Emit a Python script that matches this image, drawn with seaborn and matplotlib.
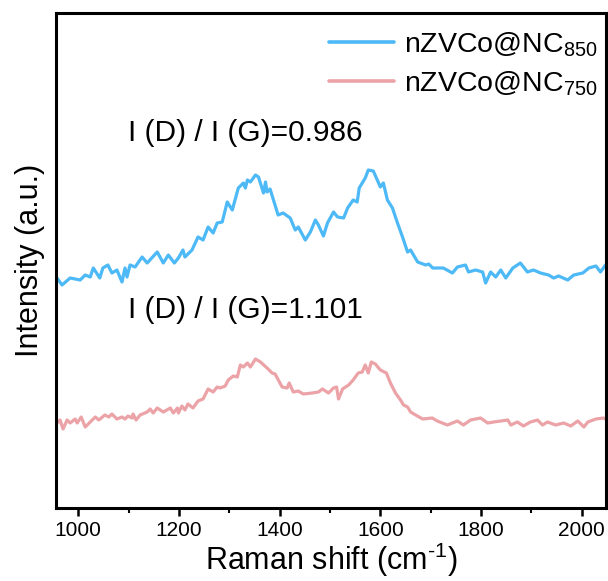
import numpy as np
import pandas as pd
import matplotlib
matplotlib.use("Agg")
import matplotlib.pyplot as plt
from matplotlib.ticker import MultipleLocator
import seaborn as sns

# ---- data ----
shift_850 = [958, 968, 984, 1004, 1014, 1024, 1030, 1043, 1049, 1059, 1067, 1077, 1087, 1093, 1097, 1103,
             1113, 1127, 1137, 1157, 1169, 1179, 1191, 1199, 1208, 1212, 1226, 1238, 1248, 1258, 1268, 1276,
             1286, 1296, 1306, 1318, 1328, 1332, 1336, 1342, 1352, 1358, 1368, 1372, 1375, 1381, 1397, 1407,
             1421, 1431, 1437, 1451, 1461, 1471, 1477, 1487, 1495, 1507, 1515, 1527, 1535, 1546, 1554, 1558,
             1570, 1576, 1586, 1600, 1606, 1614, 1624, 1634, 1644, 1654, 1660, 1674, 1690, 1696, 1704, 1725,
             1743, 1753, 1769, 1775, 1789, 1803, 1809, 1819, 1829, 1839, 1849, 1863, 1878, 1892, 1904, 1918,
             1934, 1944, 1954, 1972, 1984, 2002, 2014, 2028, 2037, 2047]
int_850 = [230, 223, 230, 228, 233, 231, 240, 230, 240, 243, 235, 238, 226, 240, 231, 243,
           241, 251, 245, 256, 245, 253, 245, 250, 258, 251, 258, 271, 268, 281, 275, 285,
           286, 306, 298, 320, 325, 320, 328, 326, 333, 331, 315, 326, 316, 319, 293, 295,
           290, 278, 281, 268, 276, 288, 283, 272, 285, 296, 291, 290, 300, 308, 306, 320,
           330, 338, 337, 321, 325, 308, 300, 285, 271, 256, 258, 246, 243, 244, 240, 240,
           235, 241, 243, 236, 238, 236, 225, 236, 231, 238, 230, 240, 245, 236, 238, 235,
           233, 230, 232, 228, 233, 235, 240, 242, 236, 243]

shift_750 = [958, 964, 970, 978, 984, 994, 998, 1006, 1014, 1024, 1034, 1041, 1053, 1061, 1067, 1077,
             1087, 1093, 1099, 1107, 1109, 1115, 1123, 1137, 1143, 1149, 1157, 1169, 1183, 1189, 1197, 1199,
             1206, 1212, 1218, 1228, 1238, 1248, 1258, 1268, 1276, 1282, 1292, 1298, 1308, 1316, 1322, 1328,
             1336, 1342, 1352, 1362, 1375, 1385, 1391, 1405, 1415, 1419, 1427, 1437, 1447, 1465, 1477, 1485,
             1497, 1507, 1513, 1517, 1525, 1537, 1546, 1556, 1564, 1570, 1576, 1582, 1590, 1600, 1612, 1620,
             1630, 1640, 1646, 1654, 1660, 1670, 1684, 1703, 1713, 1733, 1753, 1765, 1779, 1799, 1813, 1825,
             1839, 1853, 1859, 1872, 1884, 1898, 1912, 1922, 1932, 1948, 1964, 1978, 1992, 2004, 2012, 2028,
             2043, 2051]
int_750 = [85, 88, 79, 88, 85, 89, 85, 91, 81, 86, 91, 88, 93, 91, 94, 89,
           91, 89, 92, 90, 94, 88, 93, 96, 99, 95, 100, 96, 100, 95, 100, 95,
           102, 98, 104, 100, 107, 109, 119, 116, 121, 120, 122, 128, 132, 131, 143, 141,
           145, 141, 149, 146, 140, 135, 134, 121, 120, 125, 116, 117, 114, 115, 116, 119,
           115, 120, 121, 109, 119, 123, 128, 135, 136, 143, 135, 146, 144, 138, 135, 125,
           115, 108, 103, 101, 96, 93, 89, 90, 87, 83, 87, 83, 88, 90, 85, 86,
           87, 88, 83, 86, 82, 86, 88, 83, 86, 83, 85, 82, 87, 81, 86, 89,
           90, 88]

series_labels = [r"nZVCo@NC$_{850}$", r"nZVCo@NC$_{750}$"]
ratio_labels = ["I (D) / I (G)=0.986", "I (D) / I (G)=1.101"]
x_ticks = [1000, 1200, 1400, 1600, 1800, 2000]

df = pd.concat([
    pd.DataFrame({"shift": shift_850, "intensity": int_850, "sample": series_labels[0]}),
    pd.DataFrame({"shift": shift_750, "intensity": int_750, "sample": series_labels[1]}),
], ignore_index=True)

sns.set_style("ticks")
plt.rcParams["font.family"] = ["Liberation Sans", "DejaVu Sans"]
plt.rcParams["mathtext.fontset"] = "custom"
plt.rcParams["mathtext.rm"] = "Liberation Sans"
plt.rcParams["mathtext.default"] = "regular"
plt.rcParams["text.color"] = "black"
plt.rcParams["axes.labelcolor"] = "black"
plt.rcParams["xtick.color"] = "black"
plt.rcParams["ytick.color"] = "black"
plt.rcParams["xtick.bottom"] = True

fig = plt.figure(figsize=(6.08, 5.81), dpi=100)
ax = fig.add_axes([56 / 608, 73 / 581, 550 / 608, 495 / 581])

sns.lineplot(data=df, x="shift", y="intensity", hue="sample", hue_order=series_labels,
             palette=["#4DB9F6", "#EBA3A7"], estimator=None, sort=False,
             linewidth=2.3, ax=ax)

ax.set_xlim(956, 2048)
ax.set_ylim(0, 495)
ax.set_xticks(x_ticks)
ax.xaxis.set_minor_locator(MultipleLocator(100))
ax.set_yticks([])
ax.tick_params(axis="x", which="major", direction="out", length=6, width=1.8,
               labelsize=15, pad=3, color="black", labelcolor="black", bottom=True)
ax.tick_params(axis="x", which="minor", direction="out", length=3.5, width=1.5,
               color="black", bottom=True)
for sp in ax.spines.values():
    sp.set_visible(True)
    sp.set_linewidth(2.2)
    sp.set_color("black")

ax.set_xlabel(r"Raman shift (cm$^{\text{-1}}$)", fontsize=22, labelpad=1, color="black")
ax.set_ylabel("Intensity (a.u.)", fontsize=22, labelpad=8, color="black")

ax.text(1098, 375, ratio_labels[0], fontsize=21.5, va="center", ha="left", color="black")
ax.text(1098, 198, ratio_labels[1], fontsize=21.5, va="center", ha="left", color="black")

leg = ax.legend(loc="upper right", frameon=False, fontsize=20.5, handlelength=2.3,
                handletextpad=0.35, labelspacing=0.38, borderaxespad=0.2,
                bbox_to_anchor=(1.0 + 9 / 550, 1.0))
for line in leg.get_lines():
    line.set_linewidth(2.6)
for t in leg.get_texts():
    t.set_color("black")

fig.savefig("out.png", dpi=100)
